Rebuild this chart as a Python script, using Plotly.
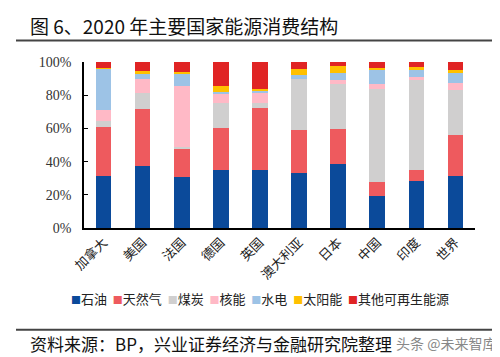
import plotly.graph_objects as go

countries = ["加拿大", "美国", "法国", "德国", "英国", "澳大利亚", "日本", "中国", "印度", "世界"]
series_names = ["石油", "天然气", "煤炭", "核能", "水电", "太阳能", "其他可再生能源"]
colors = ["#0B4A9A", "#EE5A5E", "#D0CFCF", "#FFB9C6", "#9DC3E6", "#FFC000", "#E02424"]

oil        = [31.5, 37.3, 30.9, 34.9, 34.9, 33.1, 38.4, 19.5, 28.3, 31.5]
gas        = [29.5, 34.1, 16.9, 25.5, 37.4, 26.2, 21.5,  8.4,  6.8, 24.7]
coal       = [ 3.4, 10.2,  1.0, 15.1,  3.2, 30.7, 27.1, 56.1, 54.3, 26.8]
nuclear    = [ 6.6,  8.4, 37.0,  5.0,  6.0,  0.0,  2.4,  2.6,  1.6,  4.4]
hydro      = [25.3,  3.0,  6.8,  1.4,  0.8,  2.0,  4.2,  8.4,  4.4,  6.2]
solar      = [ 0.2,  1.6,  1.4,  3.4,  1.6,  3.6,  4.0,  1.4,  1.6,  1.8]
other      = [ 3.5,  5.4,  6.0, 14.7, 16.1,  4.4,  2.4,  3.6,  3.0,  4.6]
series_values = [oil, gas, coal, nuclear, hydro, solar, other]

y_tickvals = [0, 20, 40, 60, 80, 100]
y_ticktext = ["0%", "20%", "40%", "60%", "80%", "100%"]

title_text = "图 6、2020 年主要国家能源消费结构"
source_text = "资料来源：BP，兴业证券经济与金融研究院整理"
watermark_text = "头条 @未来智库"

cjk = "Noto Sans CJK SC"

fig = go.Figure()
for name, vals, col in zip(series_names, series_values, colors):
    fig.add_trace(go.Bar(x=countries, y=vals, name=name, marker=dict(color=col, line=dict(width=0)),
                         showlegend=False))

legend_html = "&nbsp;&nbsp;".join(
    f"<span style='color:{c};font-size:10px'>■</span>{n}" for n, c in zip(series_names, colors)
)

fig.update_layout(
    barmode="stack",
    bargap=0.6,
    width=500, height=357,
    margin=dict(l=76, r=33, t=54, b=137),
    paper_bgcolor="white", plot_bgcolor="white",
    xaxis=dict(
        showline=True, linecolor="black", linewidth=1.5, ticks="", tickangle=-45,
        tickfont=dict(family=cjk, size=13, color="#222"), showgrid=False,
    ),
    yaxis=dict(
        range=[0, 100], tickvals=y_tickvals, ticktext=y_ticktext, showline=True,
        linecolor="black", linewidth=1.5, ticks="inside", ticklen=4, tickcolor="black",
        tickfont=dict(family="Liberation Serif", size=14, color="#333"), showgrid=False,
        ticklabelstandoff=8,
    ),
    annotations=[
        dict(text=title_text, xref="paper", yref="paper", x=(20 - 76) / 391, y=1 + 36/166,
             xanchor="left", yanchor="middle", showarrow=False,
             font=dict(family=cjk, size=19, color="#111")),
        dict(text=legend_html, xref="paper", yref="paper", x=(252 - 76) / 391, y=-70/166,
             xanchor="center", yanchor="middle", showarrow=False,
             font=dict(family=cjk, size=13, color="#222")),
        dict(text=source_text, xref="paper", yref="paper", x=(20 - 76) / 391, y=-115/166,
             xanchor="left", yanchor="middle", showarrow=False,
             font=dict(family=cjk, size=17, color="#111")),
        dict(text=watermark_text, xref="paper", yref="paper", x=1 + 23/391, y=-115/166,
             xanchor="right", yanchor="middle", showarrow=False,
             font=dict(family=cjk, size=14, color="#888")),
    ],
    shapes=[
        dict(type="line", xref="paper", yref="paper", x0=-68/391, x1=1 + 26/391,
             y0=1 + 21.5/166, y1=1 + 21.5/166, line=dict(color="#444", width=2)),
        dict(type="line", xref="paper", yref="paper", x0=-68/391, x1=1 + 26/391,
             y0=-101.7/166, y1=-101.7/166, line=dict(color="#444", width=2)),
    ],
)

fig.write_html("out.html")
